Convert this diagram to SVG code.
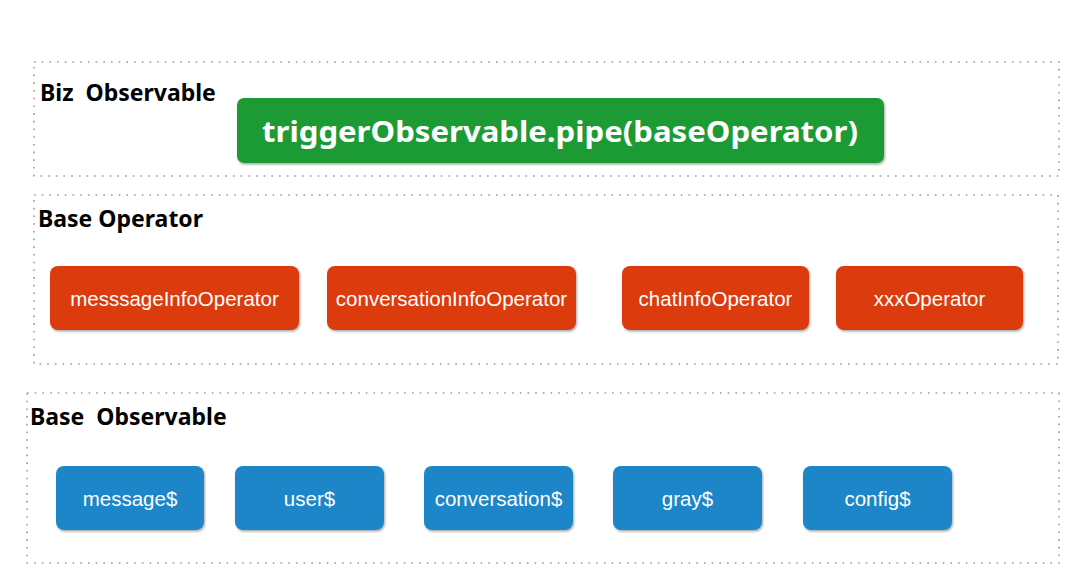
<svg xmlns="http://www.w3.org/2000/svg" width="1086" height="586" viewBox="0 0 1086 586">
<defs>
<filter id="sh" x="-10%" y="-10%" width="120%" height="130%">
<feDropShadow dx="1" dy="1.5" stdDeviation="1" flood-color="#000" flood-opacity="0.35"/>
</filter>
</defs>
<style>
.frame{fill:none;stroke:#9a9a9a;stroke-width:1.6;stroke-dasharray:1.6 6.1}
.hdr{font-family:"Noto Sans","Open Sans",sans-serif;font-weight:bold;font-size:23px;fill:#000;white-space:pre}
.red{fill:#dc3a0c;filter:url(#sh)}
.blue{fill:#1b86c9;filter:url(#sh)}
.green{fill:#1f9b35;filter:url(#sh)}
.lbl{font-family:"Liberation Sans",Arial,sans-serif;font-size:20.5px;fill:#fff;text-anchor:middle}
.big{font-family:"Noto Sans","Open Sans",sans-serif;font-weight:bold;font-size:29px;fill:#fff;text-anchor:middle}
</style>
<rect width="1086" height="586" fill="#fff"/>
<g id="biz-observable">
<rect class="frame" x="34" y="62" width="1025" height="114"/>
<text class="hdr" x="40" y="101" xml:space="preserve">Biz  Observable</text>
</g>
<g id="trigger">
<rect class="green" x="237" y="98" width="647" height="65" rx="7"/>
<text class="big" x="560" y="142" textLength="596" lengthAdjust="spacingAndGlyphs">triggerObservable.pipe(baseOperator)</text>
</g>
<g id="base-operator">
<rect class="frame" x="34" y="195" width="1024" height="169"/>
<text class="hdr" x="38" y="227">Base Operator</text>
</g>
<g id="op-message"><rect class="red" x="50" y="266" width="249" height="64" rx="8"/><text class="lbl" x="174.5" y="305.5">messsageInfoOperator</text></g>
<g id="op-conversation"><rect class="red" x="327" y="266" width="249" height="64" rx="8"/><text class="lbl" x="451.5" y="305.5">conversationInfoOperator</text></g>
<g id="op-chat"><rect class="red" x="622" y="266" width="187" height="64" rx="8"/><text class="lbl" x="715.5" y="305.5">chatInfoOperator</text></g>
<g id="op-xxx"><rect class="red" x="836" y="266" width="187" height="64" rx="8"/><text class="lbl" x="929.5" y="305.5">xxxOperator</text></g>
<g id="base-observable">
<rect class="frame" x="27" y="393" width="1032" height="170"/>
<text class="hdr" x="30" y="425" xml:space="preserve">Base  Observable</text>
</g>
<g id="obs-message"><rect class="blue" x="56" y="466" width="148" height="64" rx="8"/><text class="lbl" x="130" y="505.5">message$</text></g>
<g id="obs-user"><rect class="blue" x="235" y="466" width="149" height="64" rx="8"/><text class="lbl" x="309.5" y="505.5">user$</text></g>
<g id="obs-conversation"><rect class="blue" x="424" y="466" width="149" height="64" rx="8"/><text class="lbl" x="498.5" y="505.5">conversation$</text></g>
<g id="obs-gray"><rect class="blue" x="613" y="466" width="149" height="64" rx="8"/><text class="lbl" x="687.5" y="505.5">gray$</text></g>
<g id="obs-config"><rect class="blue" x="803" y="466" width="149" height="64" rx="8"/><text class="lbl" x="877.5" y="505.5">config$</text></g>
<g id="connectors"></g>
</svg>
